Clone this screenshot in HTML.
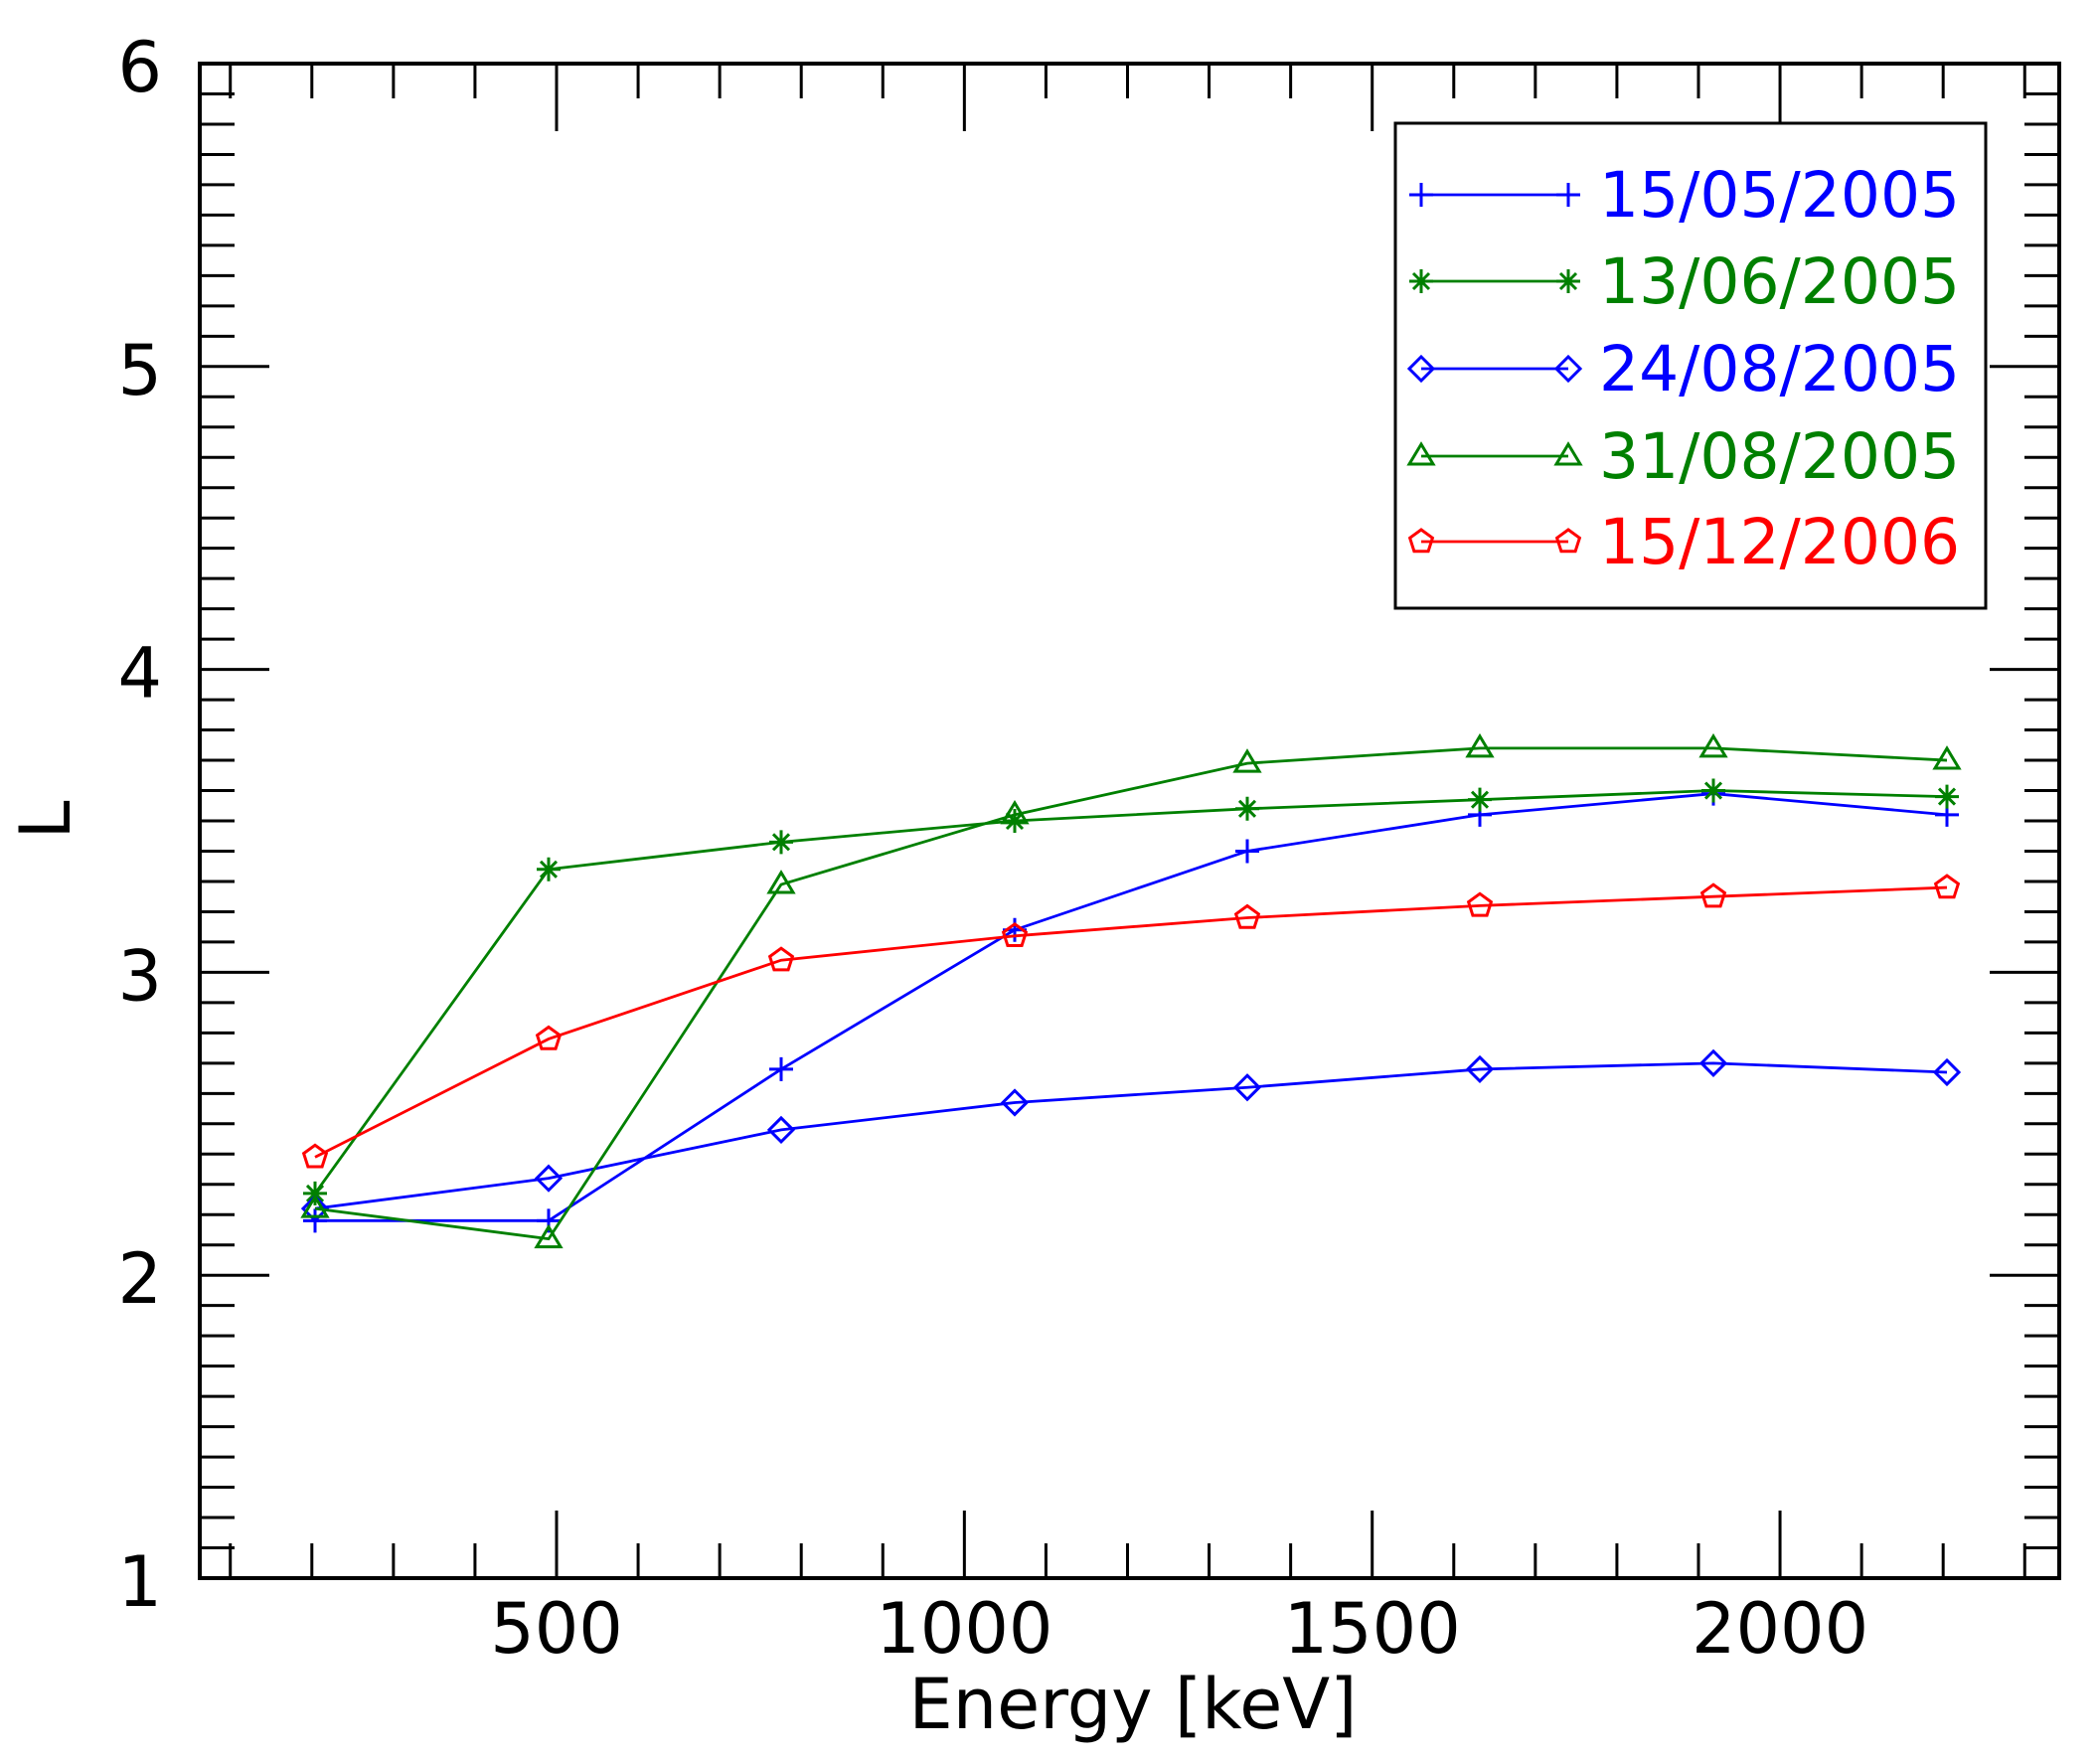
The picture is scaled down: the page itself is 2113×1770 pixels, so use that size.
<!DOCTYPE html>
<html><head><meta charset="utf-8"><style>html,body{margin:0;padding:0;background:#fff}svg{display:block}</style></head>
<body>
<svg id="s" width="2113" height="1770" xmlns="http://www.w3.org/2000/svg" font-family="DejaVu Sans, Liberation Sans, sans-serif"></svg>
<script>
const s=document.getElementById('s');let h='';
const L=201,R=2072,T=64,B=1588;
const X=v=>560+(v-500)*0.8207, Y=l=>64+(6-l)*304.8;
h+=`<rect x="${L}" y="${T}" width="${R-L}" height="${B-T}" fill="none" stroke="#000" stroke-width="4"/>`;
for(let v=100;v<=2300;v+=100){const x=X(v);if(x<=L||x>=R)continue;const len=v%500==0?68:35;
h+=`<line x1="${x}" y1="${B}" x2="${x}" y2="${B-len}" stroke="#000" stroke-width="3"/><line x1="${x}" y1="${T}" x2="${x}" y2="${T+len}" stroke="#000" stroke-width="3"/>`;
if(v%500==0)h+=`<text x="${x}" y="1663" font-size="70" text-anchor="middle">${v}</text>`;}
for(let i=10;i<=60;i++){const l=i/10,y=Y(l);const len=i%10==0?70:35;
if(i>10&&i<60)h+=`<line x1="${L}" y1="${y}" x2="${L+len}" y2="${y}" stroke="#000" stroke-width="3"/><line x1="${R}" y1="${y}" x2="${R-len}" y2="${y}" stroke="#000" stroke-width="3"/>`;
if(i%10==0)h+=`<text x="163" y="${y+28}" font-size="70" text-anchor="end">${i/10}</text>`;}
h+=`<text x="1140" y="1739" font-size="70" text-anchor="middle">Energy [keV]</text>`;
h+=`<text transform="translate(70,825) rotate(-90)" font-size="70" text-anchor="middle">L</text>`;
const xs=[317,552,786,1021,1255,1489,1724,1959];
const blue='#0000ff',green='#008000',red='#ff0000';
function mk(t,x,y,c){const r=12;
if(t=='plus')return `<path d="M${x-r} ${y}H${x+r}M${x} ${y-r}V${y+r}" stroke="${c}" stroke-width="3" fill="none"/>`;
if(t=='star')return `<path d="M${x-r} ${y}H${x+r}M${x} ${y-r}V${y+r}M${x-8} ${y-8}L${x+8} ${y+8}M${x-8} ${y+8}L${x+8} ${y-8}" stroke="${c}" stroke-width="3" fill="none"/>`;
if(t=='dia')return `<path d="M${x} ${y-r}L${x+r} ${y}L${x} ${y+r}L${x-r} ${y}Z" stroke="${c}" stroke-width="3" fill="none"/>`;
if(t=='tri')return `<path d="M${x} ${y-r}L${x+r} ${y+8}L${x-r} ${y+8}Z" stroke="${c}" stroke-width="3" fill="none"/>`;
let p=[];for(let k=0;k<5;k++){const a=-Math.PI/2+k*2*Math.PI/5;p.push((x+r*Math.cos(a)).toFixed(1)+' '+(y+r*Math.sin(a)).toFixed(1));}
return `<path d="M${p.join('L')}Z" stroke="${c}" stroke-width="3" fill="none"/>`;}
const S=[
['plus',blue,[2.18,2.18,2.68,3.14,3.40,3.52,3.59,3.52],'15/05/2005'],
['star',green,[2.27,3.34,3.43,3.50,3.54,3.57,3.60,3.58],'13/06/2005'],
['dia',blue,[2.22,2.32,2.48,2.57,2.62,2.68,2.70,2.67],'24/08/2005'],
['tri',green,[2.22,2.12,3.29,3.52,3.69,3.74,3.74,3.70],'31/08/2005'],
['pent',red,[2.39,2.78,3.04,3.12,3.18,3.22,3.25,3.28],'15/12/2006']];
S.forEach(([t,c,d])=>{h+=`<polyline points="${d.map((l,i)=>xs[i]+','+Y(l)).join(' ')}" fill="none" stroke="${c}" stroke-width="2.8"/>`;
d.forEach((l,i)=>h+=mk(t,xs[i],Y(l),c));});
h+=`<rect x="1404" y="124" width="594" height="488" fill="#fff" stroke="#000" stroke-width="3"/>`;
const ly=[196,283,371,459,545];
S.forEach(([t,c,d,n],i)=>{const y=ly[i];h+=`<line x1="1430" y1="${y}" x2="1578" y2="${y}" stroke="${c}" stroke-width="2.8"/>`+mk(t,1430,y,c)+mk(t,1578,y,c)+
`<text x="1609" y="${y+22}" font-size="63" fill="${c}">${n}</text>`;});
s.innerHTML=h;
</script>
</body></html>
